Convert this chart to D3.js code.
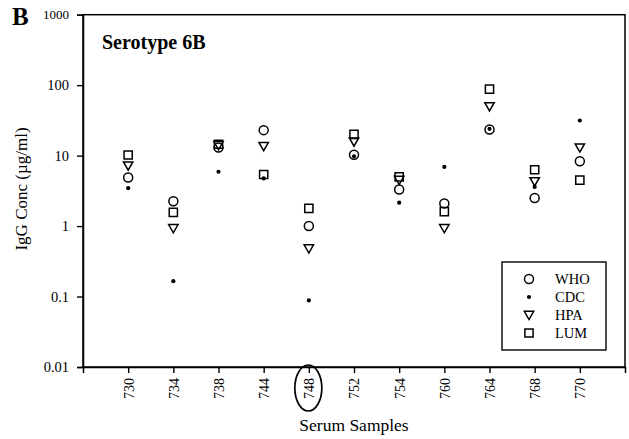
<!DOCTYPE html>
<html>
<head>
<meta charset="utf-8">
<script src="https://cdn.jsdelivr.net/npm/d3@7"></script>
<style>
  html, body { margin: 0; padding: 0; background: #fff; }
  svg { display: block; }
  text { font-family: "Liberation Serif", "Times New Roman", serif; fill: #000; }
</style>
</head>
<body>
<svg id="chart" width="629" height="439"></svg>
<script>
// Serum sample IDs on the x axis
const samples = ["730", "734", "738", "744", "748", "752", "754", "760", "764", "768", "770"];

// IgG concentrations (µg/ml) reported by each laboratory
const who = [4.9, 2.25, 13.0, 23.0, 1.0, 10.3, 3.3, 2.1, 23.5, 2.5, 8.3];
const cdc = [3.45, 0.165, 5.9, 4.75, 0.088, 9.8, 2.15, 6.9, 24.0, 3.6, 31.5];
const hpa = [7.2, 0.93, 14.0, 13.6, 0.48, 15.8, 4.5, 0.93, 50.0, 4.3, 13.0];
const lum = [10.2, 1.57, 14.5, 5.4, 1.78, 20.0, 5.0, 1.6, 88.0, 6.3, 4.5];

// Y axis ticks
const yTicks = [0.01, 0.1, 1, 10, 100, 1000];
const yTickLabels = ["0.01", "0.1", "1", "10", "100", "1000"];

const series = [
  { name: "WHO", values: who, shape: "circle" },
  { name: "CDC", values: cdc, shape: "dot" },
  { name: "HPA", values: hpa, shape: "triangle" },
  { name: "LUM", values: lum, shape: "square" }
];

const svg = d3.select("#chart");
const plotLeft = 83, plotRight = 625, plotTop = 14.7, plotBottom = 367;

const x = d3.scalePoint().domain(samples).range([plotLeft, plotRight]).padding(1);
const y = d3.scaleLog().domain([0.01, 1000]).range([plotBottom, plotTop]);

// Marker path generators centred on (0,0)
function markerPath(shape) {
  if (shape === "triangle") return "M-4.7,-3.7 L4.7,-3.7 L0,4.5 Z";
  if (shape === "square") return "M-4.1,-4.1 H4.1 V4.1 H-4.1 Z";
  return null;
}

function drawMarker(g, shape) {
  if (shape === "circle") {
    g.append("circle").attr("r", 4.5).attr("fill", "none").attr("stroke", "#000").attr("stroke-width", 1.5);
  } else if (shape === "dot") {
    g.append("circle").attr("r", 2.1).attr("fill", "#000");
  } else {
    g.append("path").attr("d", markerPath(shape)).attr("fill", "none")
      .attr("stroke", "#000").attr("stroke-width", 1.5).attr("stroke-linejoin", "miter");
  }
}

// Plot frame
svg.append("rect")
  .attr("x", plotLeft).attr("y", plotTop)
  .attr("width", plotRight - plotLeft).attr("height", plotBottom - plotTop)
  .attr("fill", "none").attr("stroke", "#000").attr("stroke-width", 1.5);

// Y axis
const yAxis = d3.axisLeft(y)
  .tickValues(yTicks)
  .tickFormat((d, i) => yTickLabels[i])
  .tickSize(6).tickPadding(8);
const gy = svg.append("g").attr("transform", `translate(${plotLeft},0)`).call(yAxis);
gy.select(".domain").attr("stroke-width", 1.5);
gy.selectAll(".tick line").attr("stroke-width", 1.4);
gy.selectAll(".tick text")
  .style("font-family", "Liberation Serif, serif")
  .style("font-size", (d) => d === 1000 ? "13px" : "14.5px");

// X axis with vertical labels
const xAxis = d3.axisBottom(x).tickSize(6).tickPadding(6);
const gx = svg.append("g").attr("transform", `translate(0,${plotBottom})`).call(xAxis);
gx.select(".domain").attr("stroke-width", 1.5);
gx.selectAll(".tick line").attr("stroke-width", 1.4);
gx.selectAll(".tick text")
  .style("font-family", "Liberation Serif, serif")
  .style("font-size", "14px")
  .attr("transform", "rotate(-90)")
  .attr("text-anchor", "end")
  .attr("x", -11)
  .attr("y", 0)
  .attr("dy", "0.35em");

// Highlight sample 748
svg.append("ellipse")
  .attr("cx", x("748") - 0.5).attr("cy", 388)
  .attr("rx", 13.5).attr("ry", 23)
  .attr("fill", "none").attr("stroke", "#000").attr("stroke-width", 1.7);

// Data markers
series.forEach(s => {
  const g = svg.append("g").attr("class", "series-" + s.name);
  s.values.forEach((v, i) => {
    const m = g.append("g").attr("transform", `translate(${x(samples[i])},${y(v)})`);
    drawMarker(m, s.shape);
  });
});

// Legend
const lg = svg.append("g");
lg.append("rect")
  .attr("x", 502).attr("y", 262).attr("width", 104).attr("height", 88)
  .attr("fill", "#fff").attr("stroke", "#000").attr("stroke-width", 1.4);
series.forEach((s, i) => {
  const cy = 279 + i * 18;
  const m = lg.append("g").attr("transform", `translate(529,${cy})`);
  drawMarker(m, s.shape);
  lg.append("text").attr("x", 555).attr("y", cy).attr("dy", "0.35em")
    .style("font-size", "14.5px").text(s.name);
});

// Titles
svg.append("text").attr("x", 12).attr("y", 25)
  .style("font-size", "25px").style("font-weight", "bold").text("B");
svg.append("text").attr("x", 102).attr("y", 49)
  .style("font-size", "20px").style("font-weight", "bold").text("Serotype 6B");
svg.append("text").attr("x", 354).attr("y", 431)
  .attr("text-anchor", "middle").style("font-size", "17.5px").text("Serum Samples");
svg.append("text")
  .attr("transform", `translate(27,189) rotate(-90)`)
  .attr("text-anchor", "middle").style("font-size", "17px").text("IgG Conc (µg/ml)");
</script>
</body>
</html>
